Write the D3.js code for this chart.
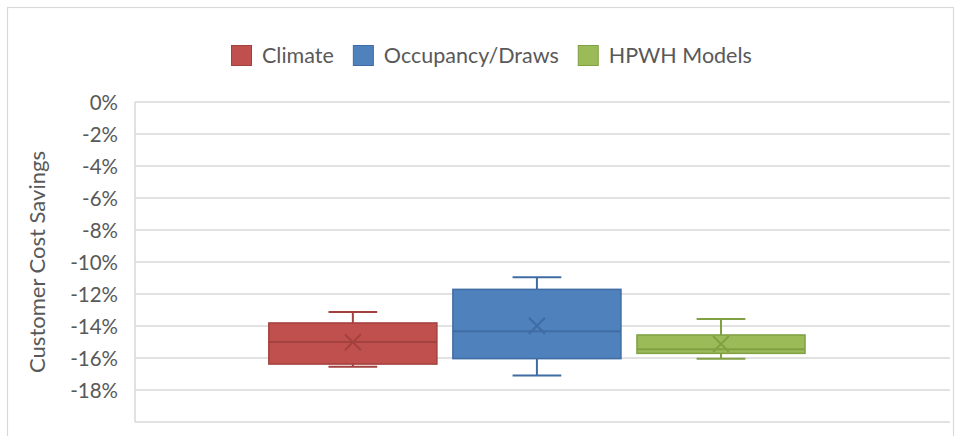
<!DOCTYPE html>
<html>
<head>
<meta charset="utf-8">
<script src="https://cdn.jsdelivr.net/npm/d3@7"></script>
<style>
  html, body { margin: 0; padding: 0; background: #fff; }
  svg { display: block; }
  text { font-family: Lato, "Open Sans", sans-serif; fill: #595959; }
</style>
</head>
<body>
<svg id="chart" width="955" height="436"></svg>
<script>
// ---- data ----
const series = ["Climate", "Occupancy/Draws", "HPWH Models"];
const colors = ["#C0504D", "#4F81BD", "#9BBB59"];
const strokes = ["#A3413E", "#3F6CA3", "#80A043"];
const whiskerLow  = [-16.55, -17.10, -16.04];
const q1          = [-16.38, -16.04, -15.71];
const median      = [-15.00, -14.33, -15.46];
const q3          = [-13.81, -11.71, -14.56];
const whiskerHigh = [-13.12, -10.96, -13.56];
const mean        = [-15.02, -13.98, -15.13];
const yTicks = [0, -2, -4, -6, -8, -10, -12, -14, -16, -18];
const yTitle = "Customer Cost Savings";

const svg = d3.select("#chart");
const plot = { left: 135, right: 950, top: 102, bottom: 422 };

// outer chart border
svg.append("rect")
  .attr("x", 7.5).attr("y", 7.5)
  .attr("width", 946).attr("height", 440)
  .attr("fill", "none").attr("stroke", "#D9D9D9").attr("stroke-width", 1.2);

const y = d3.scaleLinear().domain([-20, 0]).range([plot.bottom, plot.top]);

const x0 = d3.scaleBand().domain(["all"]).range([plot.left, plot.right])
  .paddingInner(0).paddingOuter(0.26).align(0.48);
const x1 = d3.scaleBand().domain(series).range([0, x0.bandwidth()])
  .paddingInner(0.087).paddingOuter(0);

// gridlines
svg.append("g").selectAll("line").data(d3.range(0, -21, -2)).join("line")
  .attr("x1", plot.left).attr("x2", plot.right)
  .attr("y1", d => y(d)).attr("y2", d => y(d))
  .attr("stroke", "#D9D9D9").attr("stroke-width", 1.5);
// left vertical line of plot area
svg.append("line")
  .attr("x1", plot.left).attr("x2", plot.left)
  .attr("y1", plot.top).attr("y2", plot.bottom)
  .attr("stroke", "#D9D9D9").attr("stroke-width", 1.5);

// y axis labels
const yAxis = d3.axisLeft(y).tickValues(yTicks).tickSize(0).tickPadding(0)
  .tickFormat(d => d + "%");
const ya = svg.append("g").attr("transform", `translate(118,0)`).call(yAxis);
ya.select(".domain").remove();
ya.selectAll("text").style("font-family", "Lato, 'Open Sans', sans-serif")
  .style("font-size", "20.5px").attr("fill", "#595959").attr("dy", "0.36em");

// y title
svg.append("text")
  .attr("transform", `translate(45,${(plot.top + plot.bottom) / 2}) rotate(-90)`)
  .attr("text-anchor", "middle")
  .style("font-size", "22px")
  .text(yTitle);

// boxes
const boxes = svg.append("g");
series.forEach((s, i) => {
  const bx = x0("all") + x1(s);
  const bw = x1.bandwidth();
  const cx = bx + bw / 2;
  const capW = bw * 0.29;
  const g = boxes.append("g");
  g.append("line").attr("x1", cx).attr("x2", cx)
    .attr("y1", y(whiskerHigh[i])).attr("y2", y(q3[i]))
    .attr("stroke", strokes[i]).attr("stroke-width", 2);
  g.append("line").attr("x1", cx).attr("x2", cx)
    .attr("y1", y(q1[i])).attr("y2", y(whiskerLow[i]))
    .attr("stroke", strokes[i]).attr("stroke-width", 2);
  [whiskerHigh[i], whiskerLow[i]].forEach(v => {
    g.append("line").attr("x1", cx - capW / 2).attr("x2", cx + capW / 2)
      .attr("y1", y(v)).attr("y2", y(v))
      .attr("stroke", strokes[i]).attr("stroke-width", 2);
  });
  g.append("rect")
    .attr("x", bx).attr("y", y(q3[i]))
    .attr("width", bw).attr("height", y(q1[i]) - y(q3[i]))
    .attr("fill", colors[i]).attr("stroke", strokes[i]).attr("stroke-width", 1.5);
  g.append("line").attr("x1", bx).attr("x2", bx + bw)
    .attr("y1", y(median[i])).attr("y2", y(median[i]))
    .attr("stroke", strokes[i]).attr("stroke-width", 2);
  const my = y(mean[i]), m = 8;
  g.append("path")
    .attr("d", `M${cx - m},${my - m}L${cx + m},${my + m}M${cx - m},${my + m}L${cx + m},${my - m}`)
    .attr("stroke", strokes[i]).attr("stroke-width", 2).attr("fill", "none");
});

// legend
const legend = svg.append("g");
let lx = 231;
series.forEach((s, i) => {
  legend.append("rect").attr("x", lx + 0.5).attr("y", 45.5).attr("width", 20).attr("height", 20)
    .attr("fill", colors[i]).attr("stroke", strokes[i]).attr("stroke-width", 1);
  const t = legend.append("text").attr("x", lx + 31).attr("y", 63)
    .style("font-size", "21.5px").text(s);
  const tw = t.node().getComputedTextLength();
  lx = lx + 31 + tw + 19;
});
</script>
</body>
</html>
